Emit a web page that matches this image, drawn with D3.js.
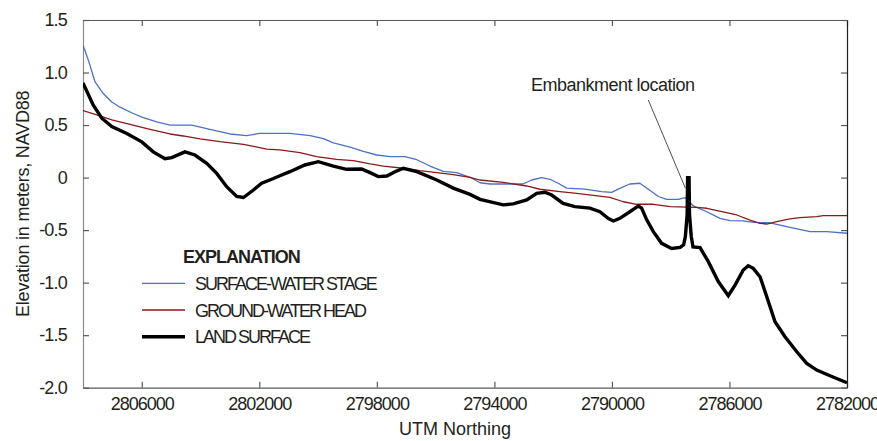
<!DOCTYPE html>
<html>
<head>
<meta charset="utf-8">
<script src="https://cdn.jsdelivr.net/npm/d3@7"></script>
<style>
  body { margin: 0; background: #fff; }
  svg text { font-family: "Liberation Sans", Arial, sans-serif; fill: #231f20; }
</style>
</head>
<body>
<div id="graph"></div>
<script>
// northing, elevation (m NAVD88)
const surfaceWater = [
  [2808000, 1.26], [2807820, 1.12], [2807590, 0.91], [2807310, 0.80], [2807020, 0.72],
  [2806740, 0.67], [2806290, 0.61], [2805950, 0.57], [2805490, 0.53], [2805040, 0.50],
  [2804300, 0.50], [2803680, 0.46], [2803000, 0.415], [2802430, 0.40], [2801980, 0.42],
  [2801300, 0.42], [2800960, 0.42], [2800270, 0.40], [2799820, 0.37], [2799480, 0.33],
  [2798910, 0.29], [2798460, 0.25], [2798000, 0.215], [2797550, 0.20], [2797040, 0.20],
  [2796640, 0.17], [2796190, 0.11], [2795740, 0.06], [2795280, 0.047], [2794830, 0.003],
  [2794490, -0.049], [2794150, -0.061], [2793020, -0.061], [2792730, -0.023], [2792390, 0.0],
  [2792110, -0.016], [2791830, -0.054], [2791540, -0.10], [2790920, -0.109], [2790350, -0.134],
  [2790010, -0.14], [2789730, -0.102], [2789390, -0.061], [2789050, -0.054], [2788760, -0.111],
  [2788420, -0.18], [2788140, -0.207], [2787740, -0.207], [2787510, -0.19], [2787230, -0.27],
  [2786770, -0.325], [2786320, -0.388], [2785980, -0.41], [2785530, -0.413], [2785190, -0.426],
  [2784620, -0.43], [2784050, -0.467], [2783260, -0.515], [2782690, -0.515], [2782000, -0.53]
];

const groundWater = [
  [2808000, 0.637], [2807530, 0.596], [2807020, 0.549], [2806400, 0.507], [2805720, 0.46],
  [2805040, 0.415], [2804590, 0.396], [2804020, 0.368], [2803340, 0.342], [2802540, 0.317],
  [2802150, 0.294], [2801750, 0.27], [2801300, 0.263], [2800620, 0.237], [2800050, 0.199],
  [2799370, 0.174], [2798800, 0.161], [2798230, 0.13], [2797780, 0.11], [2797100, 0.089],
  [2796530, 0.066], [2795960, 0.047], [2795400, 0.028], [2794830, 0.003], [2794490, -0.023],
  [2793700, -0.045], [2792900, -0.08], [2792450, -0.111], [2791770, -0.134], [2791200, -0.15],
  [2790070, -0.188], [2789610, -0.23], [2789160, -0.254], [2788590, -0.254], [2788020, -0.277],
  [2787120, -0.283], [2786770, -0.292], [2786100, -0.334], [2785750, -0.356], [2785300, -0.404],
  [2784960, -0.435], [2784730, -0.442], [2784390, -0.42], [2783940, -0.394], [2783600, -0.382],
  [2783030, -0.372], [2782810, -0.362], [2782000, -0.362]
];

const landSurface = [
  [2808000, 0.90], [2807650, 0.69], [2807360, 0.565], [2807020, 0.485], [2806510, 0.42],
  [2806000, 0.34], [2805610, 0.245], [2805210, 0.18], [2804980, 0.19], [2804530, 0.245],
  [2804190, 0.215], [2803790, 0.135], [2803450, 0.04], [2803110, -0.087], [2802770, -0.18],
  [2802540, -0.19], [2802200, -0.118], [2801920, -0.054], [2801580, -0.016], [2801300, 0.018],
  [2800960, 0.056], [2800450, 0.12], [2799990, 0.151], [2799480, 0.11], [2799030, 0.079],
  [2798520, 0.082], [2798230, 0.047], [2797950, 0.009], [2797660, 0.015], [2797380, 0.056],
  [2797100, 0.089], [2796640, 0.056], [2795960, -0.023], [2795400, -0.10], [2794830, -0.16],
  [2794490, -0.207], [2793700, -0.26], [2793360, -0.25], [2792900, -0.213], [2792560, -0.15],
  [2792280, -0.14], [2792050, -0.166], [2791660, -0.245], [2791260, -0.277], [2790750, -0.29],
  [2790410, -0.325], [2790120, -0.39], [2789950, -0.413], [2789730, -0.388], [2789390, -0.325],
  [2789100, -0.27], [2788990, -0.29], [2788820, -0.40], [2788590, -0.515], [2788310, -0.626],
  [2787970, -0.675], [2787680, -0.664], [2787560, -0.64], [2787500, -0.56], [2787440, -0.35],
  [2787425, 0.0], [2787375, 0.0], [2787360, -0.35], [2787300, -0.56], [2787240, -0.66],
  [2787000, -0.667], [2786720, -0.80], [2786380, -0.99],
  [2786040, -1.125], [2785810, -1.023], [2785530, -0.88], [2785360, -0.839], [2785190, -0.864],
  [2784960, -0.944], [2784730, -1.134], [2784450, -1.372], [2784110, -1.515], [2783710, -1.658],
  [2783370, -1.769], [2783030, -1.832], [2782580, -1.886], [2782000, -1.953]
];

const xTicks = [2806000, 2802000, 2798000, 2794000, 2790000, 2786000, 2782000];
const yTicks = [1.5, 1.0, 0.5, 0, -0.5, -1.0, -1.5, -2.0];
const yTickLabels = ["1.5", "1.0", "0.5", "0", "-0.5", "-1.0", "-1.5", "-2.0"];

const seriesNames = ["SURFACE-WATER STAGE", "GROUND-WATER HEAD", "LAND SURFACE"];
const seriesColors = ["#4a72c8", "#8b1a1a", "#000000"];
const seriesWidths = [1.3, 1.3, 3.4];
const seriesData = [surfaceWater, groundWater, landSurface];

const embankment = [2787450, -0.1];

const W = 877, H = 441;
const m = { left: 83, right: 847, top: 20, bottom: 387.7 };

const svg = d3.select("#graph").append("svg")
  .attr("width", W).attr("height", H);

const x = d3.scaleLinear().domain([2808000, 2782000]).range([m.left, m.right]);
const y = d3.scaleLinear().domain([-2.0, 1.5]).range([m.bottom, m.top]);

svg.append("defs").append("clipPath").attr("id", "clip")
  .append("rect").attr("x", m.left).attr("y", m.top)
  .attr("width", m.right - m.left).attr("height", m.bottom - m.top);

// axes, ticks pointing inward, mirrored on top/right
const axisColor = "#5a5a5a";
function styleAxis(g) {
  g.select(".domain").attr("stroke", axisColor).attr("stroke-width", 1.2);
  g.selectAll(".tick line").attr("stroke", axisColor).attr("stroke-width", 1.2);
}

const gx = svg.append("g").attr("transform", `translate(0,${m.bottom})`)
  .call(d3.axisBottom(x).tickValues(xTicks).tickSizeInner(-6).tickSizeOuter(0).tickPadding(14)
    .tickFormat(d3.format("d")));
styleAxis(gx);
gx.selectAll(".tick text").attr("font-size", 18).attr("letter-spacing", "-1px")
  .attr("fill", "#231f20").attr("dy", "0.45em");

const gxTop = svg.append("g").attr("transform", `translate(0,${m.top})`)
  .call(d3.axisTop(x).tickValues(xTicks).tickSizeInner(-6).tickSizeOuter(0).tickFormat(""));
styleAxis(gxTop);

const gy = svg.append("g").attr("transform", `translate(${m.left},0)`)
  .call(d3.axisLeft(y).tickValues(yTicks).tickSizeInner(-6).tickSizeOuter(0).tickPadding(16)
    .tickFormat((d, i) => yTickLabels[i]));
styleAxis(gy);
gy.select(".domain").attr("stroke", "#8c8c8c");
gy.selectAll(".tick text").attr("font-size", 18).attr("letter-spacing", "-0.8px")
  .attr("fill", "#231f20");

const gyRight = svg.append("g").attr("transform", `translate(${m.right},0)`)
  .call(d3.axisRight(y).tickValues(yTicks).tickSizeInner(-6).tickSizeOuter(0).tickFormat(""));
styleAxis(gyRight);
gyRight.select(".domain").attr("stroke", "#222");

// lines
const line = d3.line().x(d => x(d[0])).y(d => y(d[1]));
const plot = svg.append("g").attr("clip-path", "url(#clip)");
seriesData.forEach((data, i) => {
  plot.append("path")
    .datum(data)
    .attr("fill", "none")
    .attr("stroke", seriesColors[i])
    .attr("stroke-width", seriesWidths[i])
    .attr("stroke-linejoin", i === 2 ? "miter" : "round")
    .attr("stroke-miterlimit", 2)
    .attr("d", line);
});

// annotation
svg.append("line")
  .attr("x1", 648.3).attr("y1", 100)
  .attr("x2", x(embankment[0]) - 1.5).attr("y2", y(embankment[1]))
  .attr("stroke", "#231f20").attr("stroke-width", 0.8);
svg.append("text").attr("x", 531).attr("y", 91)
  .attr("font-size", 18).attr("letter-spacing", "-0.5px")
  .text("Embankment location");

// legend
svg.append("text").attr("x", 183).attr("y", 263)
  .attr("font-size", 18).attr("font-weight", "bold").attr("letter-spacing", "-1px")
  .text("EXPLANATION");
const legend = svg.append("g");
seriesNames.forEach((name, i) => {
  const ly = 283.3 + i * 26.7;
  legend.append("line")
    .attr("x1", 142).attr("x2", 185).attr("y1", ly).attr("y2", ly)
    .attr("stroke", seriesColors[i]).attr("stroke-width", seriesWidths[i]);
  legend.append("text").attr("x", 195).attr("y", ly + 6.5)
    .attr("font-size", 18).attr("letter-spacing", "-2px")
    .text(name);
});

// axis titles
svg.append("text").attr("x", 455).attr("y", 435)
  .attr("text-anchor", "middle").attr("font-size", 18)
  .text("UTM Northing");
svg.append("text")
  .attr("transform", `translate(29,${(m.top + m.bottom) / 2}) rotate(-90)`)
  .attr("text-anchor", "middle").attr("font-size", 18).attr("letter-spacing", "-0.2px")
  .text("Elevation in meters, NAVD88");
</script>
</body>
</html>
